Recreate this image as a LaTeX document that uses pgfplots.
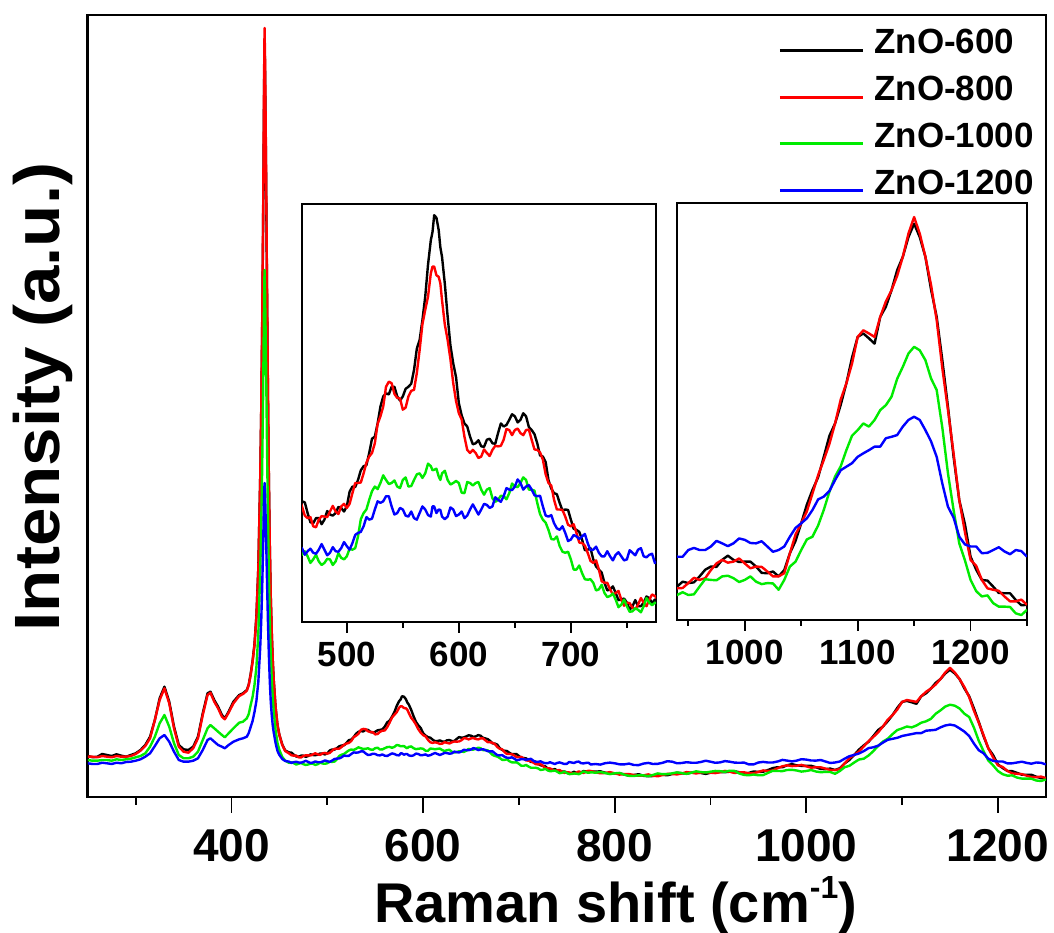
\documentclass[border=0pt]{standalone}
\usepackage{fontspec}
\setmainfont{Liberation Sans}
\usepackage{pgfplots}
\pgfplotsset{compat=1.18}
\usepackage{pgfplotstable}

\definecolor{cBlack}{RGB}{0,0,0}
\definecolor{cRed}{RGB}{255,0,0}
\definecolor{cGreen}{RGB}{0,235,0}
\definecolor{cBlue}{RGB}{0,0,255}

% Raman spectra: x = Raman shift (cm^-1); b = ZnO-600, r = ZnO-800, g = ZnO-1000, u = ZnO-1200
\pgfplotstableread{
x b r g u
250 41.0 40.3 37.0 33.7
255 39.7 40.3 36.3 33.0
260 40.3 39.7 36.3 33.0
265 43.0 41.0 37.0 34.3
270 42.0 40.3 37.0 33.7
275 41.0 39.7 36.3 33.0
280 42.7 41.0 37.7 34.3
285 41.3 40.3 37.0 33.7
290 40.3 40.3 37.7 35.0
295 42.0 41.0 38.3 35.3
300 43.7 43.0 39.7 36.3
305 47.0 46.3 41.0 37.7
310 52.0 51.0 43.7 40.3
315 60.3 58.7 50.3 43.7
320 77.0 77.0 60.3 51.0
325 98.7 97.0 73.7 58.7
330 110.3 108.7 82.0 62.0
335 95.3 93.7 70.3 55.3
340 70.3 68.7 53.7 45.3
345 52.0 50.3 42.0 37.0
350 47.7 45.3 38.7 35.3
355 47.0 44.3 38.7 35.3
360 50.3 48.7 40.3 36.3
365 60.3 58.7 45.3 38.7
370 83.7 82.0 57.0 47.0
375 103.7 102.0 68.7 57.0
378 105.3 104.3 72.0 58.7
382 97.0 95.3 68.7 55.3
386 90.3 88.7 65.3 52.0
390 82.0 80.3 62.0 50.3
393 78.7 77.7 59.7 48.7
397 85.3 84.3 63.7 52.0
402 95.3 93.7 68.7 55.3
408 102.0 101.0 74.3 57.7
412 103.7 103.0 75.3 58.7
416 107.0 106.3 78.7 60.3
418 112.5 112 83 64
420 123 122 92 70
422 136 135 100 76
424 153 152 112 85
426 181 180 130 96
428 229 228 163 115
430 320 320 226 150
431 383 385 270 175
432 465 470 328 208
433 572 580 402 250
434 705 720 497 300
434.5 755 769 527 314
435 728 740 508 304
436 632 640 440 265
437 515 520 358 219
438 407 410 283 177
439 318 320 222 142
440 249 250 175 115
441 199 200 141 95
442 165 165 118 82
443 138 138 100 72
444 118 118 86 65
446 90 90 67 54
448 72 72 54 46
450 62 62 47 42
453 52.5 52 40 38
456 46.5 46 36.5 36
460 44.6 43.6 34.1 35.4
462.5 44.4 41.8 34.8 34.1
465 42.3 41.3 33.8 34.8
467.5 40.5 41.5 32.5 35.3
470 40.3 39.7 33.2 34.5
472.5 41.3 39.5 34.1 34.3
475 41.3 41.0 32.8 35.1
477.5 40.1 41.7 32.1 36.2
480 41.0 41.6 32.5 35.1
482.5 42.7 41.5 33.3 34.0
485 42.0 42.6 33.2 34.5
487.5 41.8 43.7 32.1 35.6
490 42.3 42.6 32.8 34.8
492.5 43.5 42.1 34.4 34.7
495 43.3 43.6 33.5 35.4
497.5 42.6 44.1 33.2 36.6
500 43.6 43.3 33.8 35.8
502.5 46.5 44.1 35.3 35.1
505 47.5 46.2 35.1 36.4
507.5 47.4 48.2 35.4 38.0
510 48.8 48.2 37.7 38.4
512.5 50.7 48.3 41.1 38.6
515 51.5 50.1 42.3 39.7
517.5 51.7 52.2 43.0 41.5
520 54.1 53.4 44.9 41.0
522.5 56.9 54.1 46.6 41.2
525 57.3 56.0 47.5 43.0
527.5 59.9 59.8 47.0 44.6
530 63.2 61.3 48.2 44.3
532.5 65.2 63.2 49.7 44.6
535 65.8 67.1 48.8 45.6
537.5 65.6 68.1 48.0 45.6
540 67.1 67.8 48.2 43.6
542.5 67.1 65.7 48.7 42.0
545 65.2 64.9 47.5 42.3
547.5 64.4 64.8 47.2 43.3
550 65.2 62.6 48.8 43.0
552.5 66.7 63.0 49.3 41.8
555 67.1 65.2 47.5 41.6
557.5 67.7 66.3 47.6 42.6
560 70.4 66.5 48.8 41.3
562.5 74.6 69.8 49.9 41.0
565 76.3 74.3 50.1 42.3
567.5 80.2 79.4 49.2 43.6
570 84.8 82.2 50.1 43.0
572.5 91.1 84.8 52.0 41.9
575 95.9 89.4 51.5 41.6
576.5 97.5 90.7 50.7 43.6
578 100.8 90.7 50.8 43.6
580 100.3 89.0 51.0 42.3
582 97.9 88.7 49.5 43.0
583.5 94.5 87.4 48.8 42.9
585 92.6 84.1 50.1 41.6
587.5 87.3 79.3 50.6 41.1
590 80.9 76.3 48.8 41.6
592.5 75.2 72.5 47.9 43.4
595 71.7 67.8 48.2 43.0
597.5 69.0 64.3 48.6 41.7
600 63.9 61.9 48.2 42.0
602.5 61.5 60.7 46.3 42.6
605 59.9 57.3 46.2 41.3
607.5 59.3 54.7 48.4 41.8
610 57.3 54.1 48.2 43.0
612.5 55.8 54.7 47.7 44.0
615 56.0 54.1 48.2 43.0
617.5 56.6 53.1 48.4 42.0
620 55.4 53.4 46.9 43.0
622.5 55.3 54.8 45.9 44.1
625 56.7 54.1 46.9 43.9
627.5 56.9 53.5 47.2 43.3
630 56.0 54.7 45.2 43.6
632.5 55.9 55.5 44.5 45.4
635 58.0 55.4 44.9 44.9
637.5 59.9 55.5 45.7 44.5
640 59.3 56.7 45.6 45.6
642.5 59.6 58.8 45.0 47.2
645 60.6 58.6 46.2 46.9
647.5 61.7 57.6 48.1 46.8
650 61.3 58.6 47.5 47.5
652.5 60.1 58.9 47.4 48.9
655 60.6 58.0 48.2 48.2
657.5 61.9 57.6 49.3 46.9
660 61.3 58.6 48.8 47.5
662.5 59.2 58.7 46.9 47.8
665 58.6 56.7 46.9 46.9
667.5 57.8 54.8 46.7 45.8
670 56.0 54.7 44.3 45.6
672.5 53.6 54.2 42.1 45.7
675 53.4 52.8 41.0 43.6
677.5 52.3 49.9 40.4 41.8
680 48.8 48.2 39.0 41.6
682.5 47.1 47.7 37.2 41.9
685 46.2 44.9 37.1 40.3
687.5 46.0 43.0 37.7 39.3
690 44.3 43.0 35.8 39.0
692.5 42.8 42.9 34.7 39.7
695 43.0 41.6 34.5 38.4
697.5 42.9 40.0 34.7 36.8
700 41.0 39.7 33.2 37.1
702.5 39.2 40.1 31.2 38.0
705 39.0 38.4 31.2 37.7
707.5 38.6 36.5 32.0 37.2
710 37.1 36.4 30.5 37.7
712.5 35.0 35.9 29.3 38.2
715 35.1 34.5 29.2 36.4
717.5 35.4 32.9 29.3 35.0
720 33.2 32.5 28.6 35.1
722.5 31.8 33.0 27.1 35.7
725 31.2 31.2 27.3 34.5
727.5 30.6 28.9 28.2 33.8
730 28.6 28.6 26.6 33.8
732.5 27.1 28.6 25.8 34.8
735 27.3 27.3 26.0 33.8
737.5 27.9 26.3 26.5 33.0
740 26.6 26.6 25.3 34.1
742.5 25.2 27.0 23.8 34.6
745 25.3 25.3 24.3 33.8
747.5 25.5 24.1 25.3 33.0
750 24.7 24.7 24.0 33.2
752.5 23.3 24.6 22.9 35.0
755 24.0 23.7 23.0 34.5
757.5 25.2 23.4 23.6 34.0
760 24.0 24.3 23.3 35.1
762.5 24.0 25.6 22.8 35.4
765 24.7 24.7 24.0 33.8
767.5 25.9 24.0 25.6 33.6
770 25.6 25.3 24.7 34.1
772.5 24.6 26.3 24.2 34.3
775 25.3 26.0 24.7 32.5
780 25.3 24.7 24.3 33.0
785 25.7 23.7 25.0 32.4
790 24.3 24.0 24.0 33.8
795 23.2 24.9 22.9 34.4
800 23.7 23.7 23.7 33.7
805 23.7 22.4 24.1 32.7
810 22.6 22.9 22.3 32.6
815 21.2 22.9 21.1 33.4
820 22.0 22.0 21.0 32.0
825 22.8 21.2 21.7 31.9
830 21.2 21.6 21.6 33.4
835 20.7 22.6 20.9 34.1
840 21.0 21.3 22.0 33.0
845 22.3 20.7 23.6 33.2
850 22.2 22.0 22.8 34.2
855 21.7 23.1 22.8 35.8
860 23.0 23.0 23.7 35.3
865 24.3 22.6 24.6 33.7
870 23.8 23.5 23.9 34.0
875 23.3 24.9 23.1 34.8
880 24.3 24.3 24.3 34.3
885 24.7 23.5 25.7 34.2
890 24.0 24.5 24.9 35.0
895 23.1 24.8 24.5 36.3
900 24.3 24.3 25.3 35.3
905 25.9 23.9 26.0 34.2
910 25.0 24.7 25.8 34.6
915 24.8 26.1 25.2 35.9
920 25.3 25.3 26.3 35.3
925 25.8 24.0 26.1 34.4
930 24.8 24.6 23.5 34.2
935 23.6 24.7 22.1 34.4
940 24.1 23.6 21.7 32.6
945 25.5 23.7 22.5 32.6
950 25.1 25.1 21.7 34.5
955 25.3 26.6 21.9 35.1
960 27.0 26.0 24.1 34.5
965 28.9 26.5 26.2 34.5
970 29.8 28.8 26.0 35.5
975 29.7 30.7 25.9 37.1
980 31.7 31.7 27.0 36.4
985 32.9 30.9 27.2 35.6
990 31.7 31.2 26.5 36.4
995 31.1 32.1 25.4 37.8
1000 31.2 30.7 26.0 37.4
1005 31.2 29.3 27.0 36.5
1010 29.8 29.8 25.5 36.4
1015 28.0 29.7 24.8 37.0
1020 27.9 28.4 25.1 35.5
1025 28.4 27.0 25.0 34.0
1030 27.0 27.0 23.2 34.5
1035 28.8 27.9 26.0 35.5
1040 33.6 33.6 29.8 38.3
1045 37.1 38.9 31.2 40.8
1050 42.1 42.1 34.5 42.1
1055 47.4 45.5 37.5 43.5
1060 51.6 50.6 38.3 45.9
1065 55.2 55.8 41.5 48.9
1070 61.0 60.1 45.9 49.7
1075 67.0 64.7 51.1 51.3
1080 70.5 70.5 55.4 54.4
1085 75.8 77.3 58.3 57.2
1090 81.9 81.9 62.9 58.2
1095 89.2 87.5 67.0 59.2
1100 95.1 95.1 68.6 61.0
1105 96.1 97.0 70.5 62.0
1110 94.7 96.1 69.6 62.9
1115 93.2 95.1 71.5 63.9
1120 100.8 100.8 74.3 63.9
1125 103.7 105.2 75.7 66.3
1130 108.4 108.4 78.1 66.7
1135 114.1 112.5 83.2 67.2
1140 117.9 117.9 86.6 69.6
1145 123.5 124.5 90.4 71.5
1150 127.3 129.2 92.3 72.4
1155 123.5 124.5 91.3 71.5
1160 117.9 117.9 88.5 68.6
1165 108.6 109.9 83.3 65.4
1170 100.8 99.9 80.0 61.0
1175 88.5 86.2 69.3 53.4
1180 75.2 74.3 56.3 46.8
1185 60.9 61.9 45.8 43.7
1190 48.7 48.7 36.4 38.3
1195 41.9 39.6 31.6 36.1
1200 32.6 31.7 26.0 35.5
1205 28.9 30.0 22.8 35.5
1210 26.0 26.0 21.3 33.6
1215 25.8 23.6 21.6 33.7
1220 24.1 23.2 19.4 34.5
1225 22.3 22.9 18.4 35.3
1230 22.2 21.3 18.4 34.1
1235 22.2 19.9 18.3 33.3
1240 20.3 19.9 16.5 34.5
1245 18.8 20.4 16.0 34.2
1250 18.9 18.9 17.5 32.6
}\spectra

\pgfplotsset{
  ramanbase/.style={
    scale only axis,
    ytick=\empty,
    xtick pos=left,
    tick align=outside,
    axis background/.style={fill=white},
    every tick/.style={black, line width=1.8pt},
    /pgf/number format/assume math mode=true,
    /pgf/number format/1000 sep={},
    legend style={draw=none},
  },
  spec/.style={line width=2.4pt, line join=round},
}

\begin{document}
\begin{tikzpicture}
\useasboundingbox (-87.8pt,-136pt) rectangle (966.2pt,797pt);

% main spectrum
\begin{axis}[
  ramanbase,
  at={(0pt,0pt)}, anchor=south west,
  width=958pt, height=782pt,
  xmin=250, xmax=1250, ymin=0, ymax=782,
  axis line style={line width=2.6pt},
  xtick={400,600,800,1000,1200},
  minor xtick={300,500,700,900,1100},
  major tick length=16pt, minor tick length=8pt,
  xticklabel style={font=\fontsize{46pt}{50pt}\selectfont\bfseries, anchor=base, yshift=-48pt},
  xlabel={Raman shift (cm\raisebox{24pt}{\fontsize{32pt}{32pt}\selectfont -1})},
  xlabel style={font=\fontsize{56pt}{60pt}\selectfont\bfseries, at={(axis description cs:0.551,-0.1611)}, anchor=base},
  ylabel={\scalebox{1.08}[1]{Intensity (a.u.)}},
  ylabel style={font=\fontsize{64pt}{68pt}\selectfont\bfseries, at={(axis description cs:-0.03006,0.5115)}, anchor=base, rotate=0},
  legend style={at={(rel axis cs:0.7205,0.982)}, anchor=north west, fill=none, inner sep=0pt,
    font=\fontsize{35pt}{40pt}\selectfont\bfseries,
    nodes={inner sep=0pt, anchor=base west}, row sep=21pt, column sep=10pt},
  legend cell align=left,
  legend image code/.code={\draw[line width=3pt] (0pt,0.36em) -- (83pt,0.36em);},
]
\addplot[spec, cBlack] table[x=x, y=b] {\spectra};
\addplot[spec, cRed]   table[x=x, y=r] {\spectra};
\addplot[spec, cGreen] table[x=x, y=g] {\spectra};
\addplot[spec, cBlue]  table[x=x, y=u] {\spectra};
\legend{ZnO-600, ZnO-800, ZnO-1000, ZnO-1200}
\end{axis}

% inset: 460-776 cm^-1
\begin{axis}[
  ramanbase,
  at={(214.2pt,175pt)}, anchor=south west,
  width=354pt, height=418pt,
  xmin=460, xmax=776, ymin=20.9, ymax=103,
  axis line style={line width=1.8pt},
  xtick={500,600,700}, minor xtick={550,650,750},
  major tick length=11pt, minor tick length=6pt,
  xticklabel style={font=\fontsize{35pt}{40pt}\selectfont\bfseries, anchor=base, yshift=-34pt},
]
\addplot[spec, cBlack] table[x=x, y=b, restrict x to domain=455:780] {\spectra};
\addplot[spec, cRed]   table[x=x, y=r, restrict x to domain=455:780] {\spectra};
\addplot[spec, cGreen] table[x=x, y=g, restrict x to domain=455:780] {\spectra};
\addplot[spec, cBlue]  table[x=x, y=u, restrict x to domain=455:780] {\spectra};
\end{axis}

% inset: 940-1250 cm^-1
\begin{axis}[
  ramanbase,
  at={(589.2pt,177pt)}, anchor=south west,
  width=350pt, height=417pt,
  xmin=940, xmax=1250, ymin=14.6, ymax=133.2,
  axis line style={line width=1.8pt},
  xtick={1000,1100,1200}, minor xtick={950,1050,1150,1250},
  major tick length=11pt, minor tick length=6pt,
  xticklabel style={font=\fontsize{35pt}{40pt}\selectfont\bfseries, anchor=base, yshift=-34pt},
]
\addplot[spec, cBlack] table[x=x, y=b, restrict x to domain=935:1255] {\spectra};
\addplot[spec, cRed]   table[x=x, y=r, restrict x to domain=935:1255] {\spectra};
\addplot[spec, cGreen] table[x=x, y=g, restrict x to domain=935:1255] {\spectra};
\addplot[spec, cBlue]  table[x=x, y=u, restrict x to domain=935:1255] {\spectra};
\end{axis}
\end{tikzpicture}
\end{document}
